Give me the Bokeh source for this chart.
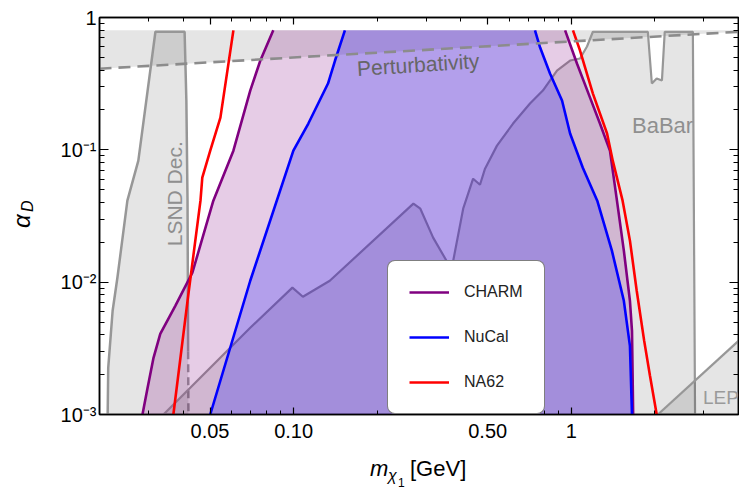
import math
from bokeh.plotting import figure
from bokeh.models import (FixedTicker, CustomJSTickFormatter, LogAxis, Label,
                          Legend, LegendItem, Div)
from bokeh.layouts import row, column
from bokeh.embed import file_html
from bokeh.resources import INLINE

# ---------------- data ----------------
x_major_ticks = [0.05, 0.1, 0.5, 1.0]
x_major_labels = ["0.05", "0.10", "0.50", "1"]
x_minor_ticks = [0.02, 0.03, 0.04, 0.05, 0.06, 0.07, 0.08, 0.09,
                 0.1, 0.2, 0.3, 0.4, 0.5, 0.6, 0.7, 0.8, 0.9,
                 1.0, 2.0, 3.0, 4.0]
y_major_ticks = [0.001, 0.01, 0.1, 1.0]
y_major_labels = ["10\u207b\u00b3", "10\u207b\u00b2", "10\u207b\u00b9", "1"]
y_minor_ticks = [0.001, 0.002, 0.003, 0.004, 0.005, 0.006, 0.007, 0.008, 0.009,
                 0.01, 0.02, 0.03, 0.04, 0.05, 0.06, 0.07, 0.08, 0.09,
                 0.1, 0.2, 0.3, 0.4, 0.5, 0.6, 0.7, 0.8, 0.9, 1.0]

m_min, m_max = 0.02, 4.0
alpha_min, alpha_max = 1e-3, 1.0
alpha_cap = 0.8

# perturbativity bound (dashed)
pert_m = [0.02, 4.0]
pert_alpha = [0.41, 0.78]

# LSND decay region
lsnd_m = [0.0214, 0.0215, 0.0223, 0.0232, 0.0252, 0.0276, 0.0318, 0.0405,
          0.0411, 0.0415, 0.0417, 0.0418]
lsnd_alpha = [0.001, 0.00225, 0.00608, 0.0108, 0.0413, 0.0828, 0.78, 0.78,
              0.235, 0.0413, 0.003, 0.001]

# BaBar region (excluded below this curve)
babar_m = [0.034, 0.0698, 0.099, 0.108, 0.135, 0.270, 0.286, 0.318, 0.357,
           0.375, 0.408, 0.443, 0.469, 0.489, 0.540, 0.617, 0.710, 0.790,
           0.888, 0.990, 1.075, 1.139, 1.196, 1.886, 1.95, 2.03, 2.12, 2.17,
           2.74, 2.79]
babar_alpha = [0.001, 0.00452, 0.0091, 0.00776, 0.01025, 0.0392, 0.0359,
               0.0217, 0.01426, 0.01426, 0.0359, 0.0605, 0.0545, 0.0721,
               0.1076, 0.158, 0.2236, 0.2805, 0.397, 0.473, 0.49, 0.604,
               0.78, 0.78, 0.317, 0.346, 0.334, 0.78, 0.78, 0.001]

# LEP
lep_m = [2.05, 4.0]
lep_alpha = [0.001, 0.0036]

# CHARM
charm_left_m = [0.02856, 0.0298, 0.0313, 0.0331, 0.0375, 0.0432, 0.0514,
                0.0607, 0.0698, 0.0759, 0.0845]
charm_left_alpha = [0.001, 0.00159, 0.00268, 0.00407, 0.00663, 0.0118,
                    0.0413, 0.0985, 0.2805, 0.473, 0.8]
charm_right_m = [0.950, 1.048, 1.168, 1.268, 1.378, 1.46, 1.546, 1.626,
                 1.654, 1.67]
charm_right_alpha = [0.8, 0.449, 0.248, 0.158, 0.0985, 0.0413, 0.0173,
                     0.00723, 0.00429, 0.001]

# NuCal
nucal_left_m = [0.0501, 0.0698, 0.0998, 0.113, 0.133, 0.141, 0.153]
nucal_left_alpha = [0.001, 0.01025, 0.0985, 0.158, 0.317, 0.473, 0.8]
nucal_right_m = [0.740, 0.772, 0.838, 0.926, 0.990, 1.10, 1.24, 1.40,
                 1.546, 1.626, 1.654]
nucal_right_alpha = [0.8, 0.593, 0.377, 0.236, 0.133, 0.0733, 0.0413,
                     0.0173, 0.00723, 0.0033, 0.001]

# NA62
na62_left_m = [0.0369, 0.0415, 0.0462, 0.0469, 0.0501, 0.0545, 0.0607]
na62_left_alpha = [0.001, 0.00723, 0.0413, 0.0616, 0.0985, 0.175, 0.8]
na62_right_m = [1.014, 1.075, 1.196, 1.345, 1.41, 1.53, 1.626, 1.72,
                1.83, 1.92, 2.03]
na62_right_alpha = [0.8, 0.563, 0.266, 0.133, 0.0828, 0.0413, 0.0206,
                    0.00861, 0.0036, 0.00196, 0.001]

# ---------------- layout geometry ----------------
FONT = "Liberation Sans"
W, H = 739, 491
YLAB_W = 45          # strip holding the rotated y title
XLAB_H = 36          # strip holding the x title
PW, PH = W - YLAB_W, H - XLAB_H
FRAME_BOTTOM = 414

p = figure(width=PW, height=PH, x_axis_type="log", y_axis_type="log",
           x_range=(m_min, m_max), y_range=(alpha_min, alpha_max),
           output_backend="svg", toolbar_location=None,
           min_border_left=99 - YLAB_W, min_border_right=1, min_border_top=17,
           min_border_bottom=PH - FRAME_BOTTOM)
p.grid.visible = False
p.background_fill_color = "white"
p.border_fill_color = "white"
p.outline_line_color = "black"
p.outline_line_width = 1.5

shade = dict(fill_color="black", fill_alpha=0.1, line_color=None)
edge_gray = "#979797"

# perturbativity band
p.patch(pert_m + pert_m[::-1], pert_alpha + [alpha_cap, alpha_cap], **shade)

# LSND
p.patch(lsnd_m, lsnd_alpha, **shade)
p.line(lsnd_m[:-1], lsnd_alpha[:-1], line_color=edge_gray, line_width=2.5)
p.line(lsnd_m[-2:], lsnd_alpha[-2:], line_color=edge_gray, line_width=2.5,
       line_dash="8 5")

# BaBar
p.patch(babar_m, babar_alpha, **shade)
p.line(babar_m, babar_alpha, line_color=edge_gray, line_width=2.2)

# LEP
p.patch(lep_m + [m_max], lep_alpha + [alpha_min], **shade)
p.line(lep_m, lep_alpha, line_color=edge_gray, line_width=2.2)

# CHARM / NuCal fills
p.patch(charm_left_m + charm_right_m, charm_left_alpha + charm_right_alpha,
        fill_color="#800080", fill_alpha=0.2, line_color=None)
p.patch(nucal_left_m + nucal_right_m, nucal_left_alpha + nucal_right_alpha,
        fill_color="#0000ff", fill_alpha=0.22, line_color=None)

# boundary lines
lw = 2.6
r_charm = p.line(charm_left_m, charm_left_alpha, line_color="#800080", line_width=lw)
p.line(charm_right_m, charm_right_alpha, line_color="#800080", line_width=lw)
r_nucal = p.line(nucal_left_m, nucal_left_alpha, line_color="#0000ff", line_width=lw)
p.line(nucal_right_m, nucal_right_alpha, line_color="#0000ff", line_width=lw)
r_na62 = p.line(na62_left_m, na62_left_alpha, line_color="#ff0000", line_width=lw)
p.line(na62_right_m, na62_right_alpha, line_color="#ff0000", line_width=lw)

# perturbativity dashed line
p.line(pert_m, pert_alpha, line_color="#8c8c8c", line_width=2.6, line_dash="12 7")

# region labels
p.add_layout(Label(x=0.0372, y=0.0466, text="LSND Dec.", angle=math.pi / 2,
                   text_align="center", text_baseline="middle",
                   text_font=FONT, text_font_size="21px", text_color="#8f8f8f"))
p.add_layout(Label(x=0.281, y=0.441, text="Perturbativity", angle=0.065,
                   text_align="center", text_baseline="middle",
                   text_font=FONT, text_font_size="21px", text_color="#666666"))
p.add_layout(Label(x=1.654, y=0.152, text="BaBar", text_align="left",
                   text_baseline="alphabetic", text_font=FONT,
                   text_font_size="22px", text_color="#8f8f8f"))
p.add_layout(Label(x=2.98, y=0.00134, text="LEP", text_align="left",
                   text_baseline="alphabetic", text_font=FONT,
                   text_font_size="19px", text_color="#9a9a9a"))

# ---------------- axes ----------------
def fmt(ticks, labels):
    return CustomJSTickFormatter(args=dict(t=ticks, l=labels), code="""
        for (let i = 0; i < t.length; i++) {
            if (Math.abs(t[i] - tick) <= 1e-6 * Math.abs(t[i])) return l[i];
        }
        return '';
    """)

blank = CustomJSTickFormatter(code="return '';")

xa = p.xaxis[0]
xa.ticker = FixedTicker(ticks=x_major_ticks, minor_ticks=x_minor_ticks)
xa.formatter = fmt(x_major_ticks, x_major_labels)
ya = p.yaxis[0]
ya.ticker = FixedTicker(ticks=y_major_ticks, minor_ticks=y_minor_ticks)
ya.formatter = fmt(y_major_ticks, y_major_labels)

top = LogAxis(ticker=FixedTicker(ticks=x_major_ticks, minor_ticks=x_minor_ticks),
              formatter=blank)
right = LogAxis(ticker=FixedTicker(ticks=y_major_ticks, minor_ticks=y_minor_ticks),
                formatter=blank)
p.add_layout(top, "above")
p.add_layout(right, "right")

for ax in (xa, top):
    ax.major_tick_in = 7
    ax.minor_tick_in = 4
for ax in (ya, right):
    ax.major_tick_in = 9
    ax.minor_tick_in = 5
for ax in (xa, ya, top, right):
    ax.major_tick_out = 0
    ax.minor_tick_out = 0
    ax.axis_line_color = "black"
    ax.axis_line_width = 1.5
    ax.major_tick_line_color = "black"
    ax.minor_tick_line_color = "black"
    ax.major_tick_line_width = 1.2
    ax.minor_tick_line_width = 1
    ax.major_label_text_font = FONT
    ax.major_label_text_font_size = "20px"
    ax.major_label_text_color = "black"
for ax in (top, right):
    ax.major_label_standoff = 0
xa.major_label_standoff = 9
ya.major_label_standoff = 3

# ---------------- legend ----------------
legend = Legend(items=[LegendItem(label="CHARM", renderers=[r_charm]),
                       LegendItem(label="NuCal", renderers=[r_nucal]),
                       LegendItem(label="NA62", renderers=[r_na62])],
                location=(288, 0), orientation="vertical",
                glyph_width=40, glyph_height=20, label_height=20,
                label_standoff=15, spacing=25, padding=21, margin=0,
                label_text_font=FONT, label_text_font_size="16px",
                label_text_color="#222222",
                border_line_color="black", border_line_width=1.5,
                background_fill_color="white", background_fill_alpha=1.0)
if "border_radius" in Legend.properties():
    legend.border_radius = 8
p.add_layout(legend, "center")

# ---------------- axis titles (real text with sub/subscripts) ----------------
def span(left, baseline, size, text, italic=False, rotate=False):
    st = ("position:absolute;white-space:nowrap;line-height:1;margin:0;padding:0;"
          f"font-family:'{FONT}';font-size:{size}px;color:black;"
          + ("font-style:italic;" if italic else ""))
    if rotate:
        # text reads upward; 'left' is the baseline x, 'baseline' is the start y
        st += (f"left:{left - 0.8465 * size:.1f}px;top:{baseline:.1f}px;"
               "transform:rotate(-90deg);transform-origin:0 0;")
    else:
        st += f"left:{left:.1f}px;top:{baseline - 0.8465 * size:.1f}px;"
    return f'<span style="{st}">{text}</span>'

xl_top = PH
x_title = ('<div style="position:relative;width:%dpx;height:%dpx;">' % (W, XLAB_H)
           + span(370, 477 - xl_top, 22, "m", italic=True)
           + span(388, 481 - xl_top, 16, "\u03c7", italic=True)
           + span(398, 487 - xl_top, 12, "1")
           + span(410, 477 - xl_top, 22, "[GeV]")
           + '</div>')
y_title = ('<div style="position:relative;width:%dpx;height:%dpx;">' % (YLAB_W, PH)
           + span(30, 228, 24, "\u03b1", italic=True, rotate=True)
           + span(33, 212, 16, "D", italic=True, rotate=True)
           + '</div>')

x_div = Div(text=x_title, width=W, height=XLAB_H, margin=0)
y_div = Div(text=y_title, width=YLAB_W, height=PH, margin=0)

layout = column(row(y_div, p, spacing=0), x_div, spacing=0)

open("out.html", "w").write(file_html(layout, INLINE))
